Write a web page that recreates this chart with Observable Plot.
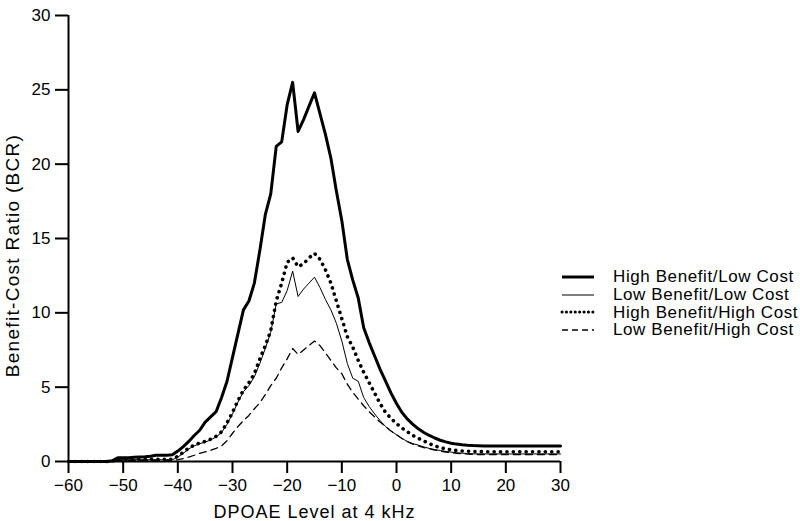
<!DOCTYPE html>
<html>
<head>
<meta charset="utf-8">
<script src="https://cdn.jsdelivr.net/npm/d3@7"></script>
<script src="https://cdn.jsdelivr.net/npm/@observablehq/plot@0.6"></script>
<style>
  html, body { margin: 0; padding: 0; background: #fff; }
  #wrap { position: relative; width: 800px; height: 521px; font-family: "Liberation Sans", Arial, sans-serif; }
  #legend { position: absolute; left: 560px; top: 268px; font-size: 17px; letter-spacing: 0.6px; color: #000; }
  .row { display: flex; align-items: center; height: 17.8px; }
  .row svg { width: 36px; height: 10px; margin-right: 17px; }
</style>
</head>
<body>
<div id="wrap"></div>
<script>
// DPOAE level (dB), 1-dB steps
const levels = d3.range(-60, 31, 1);

const seriesNames = ["High Benefit/Low Cost", "Low Benefit/Low Cost", "High Benefit/High Cost", "Low Benefit/High Cost"];

// High Benefit / Low Cost
const hblc = [
  0, 0, 0, 0, 0, 0, 0, 0,                       // -60..-53
  0.05, 0.25, 0.25, 0.25, 0.28, 0.30, 0.32, 0.35, // -52..-45
  0.42, 0.42, 0.42, 0.45,                       // -44..-41
  0.7, 1.0, 1.35, 1.75, 2.1, 2.65, 3.0, 3.35, 4.3, 5.4, // -40..-31
  7.0, 8.6, 10.2, 10.8, 12.0, 14.2, 16.6, 18.0, 21.2, 21.5, // -30..-21
  24.0, 25.5, 22.2, 23.0, 23.9, 24.8, 23.4, 22.0, 20.4, 18.2, // -20..-11
  16.2, 13.6, 12.2, 11.0, 9.0, 8.0, 7.1, 6.2, 5.4, 4.6, // -10..-1
  3.9, 3.3, 2.85, 2.5, 2.2, 1.95, 1.75, 1.58, 1.43, 1.32, // 0..9
  1.23, 1.17, 1.12, 1.09, 1.07, 1.06, 1.05, 1.05, 1.05, 1.05, // 10..19
  1.05, 1.05, 1.05, 1.05, 1.05, 1.05, 1.05, 1.05, 1.05, 1.05, 1.05 // 20..30
];

// Low Benefit / Low Cost
const lblc = [
  0, 0, 0, 0, 0, 0, 0, 0,
  0.02, 0.12, 0.12, 0.12, 0.12, 0.12, 0.12, 0.12,
  0.12, 0.12, 0.12, 0.12,
  0.3, 0.55, 0.85, 1.05, 1.2, 1.3, 1.45, 1.65, 1.95, 2.5,
  3.2, 4.0, 4.7, 5.1, 5.7, 6.6, 7.6, 8.7, 10.6, 10.7,
  11.5, 12.8, 11.1, 11.6, 12.0, 12.4, 11.7, 10.9, 10.2, 9.3,
  8.1, 6.6, 5.6, 5.4, 4.3, 3.7, 3.2, 2.75, 2.35, 2.05,
  1.8, 1.55, 1.35, 1.2, 1.1, 0.98, 0.88, 0.8, 0.74, 0.68,
  0.63, 0.59, 0.56, 0.54, 0.52, 0.51, 0.51, 0.51, 0.51, 0.51,
  0.51, 0.51, 0.51, 0.51, 0.51, 0.51, 0.51, 0.51, 0.51, 0.51, 0.51
];

// High Benefit / High Cost
const hbhc = [
  0, 0, 0, 0, 0, 0, 0, 0,
  0.03, 0.12, 0.13, 0.14, 0.15, 0.15, 0.15, 0.15,
  0.15, 0.15, 0.15, 0.15,
  0.35, 0.62, 0.9, 1.1, 1.25, 1.35, 1.5, 1.7, 2.0, 2.6,
  3.3, 4.1, 4.8, 5.3, 5.9, 6.9, 7.8, 8.8, 10.8, 12.0,
  13.4, 13.7, 13.1, 13.3, 13.7, 14.0, 13.6, 12.9, 12.0, 10.8,
  9.6, 8.4, 7.7, 6.8, 6.0, 5.3, 4.6, 3.9, 3.3, 2.9,
  2.55, 2.25, 2.0, 1.75, 1.55, 1.38, 1.2, 1.05, 0.93, 0.85,
  0.78, 0.74, 0.71, 0.69, 0.68, 0.67, 0.66, 0.66, 0.66, 0.66,
  0.66, 0.66, 0.66, 0.66, 0.66, 0.66, 0.66, 0.66, 0.66, 0.66, 0.66
];

// Low Benefit / High Cost
const lbhc = [
  0, 0, 0, 0, 0, 0, 0, 0,
  0.02, 0.08, 0.08, 0.08, 0.08, 0.08, 0.08, 0.08,
  0.08, 0.08, 0.08, 0.08,
  0.12, 0.2, 0.3, 0.42, 0.55, 0.65, 0.75, 0.88, 1.05, 1.4,
  1.9, 2.35, 2.75, 3.1, 3.55, 3.95, 4.5, 5.1, 5.6, 6.3,
  6.9, 7.6, 7.2, 7.5, 7.8, 8.1, 7.8, 7.3, 6.8, 6.3,
  5.9, 5.2, 4.65, 4.2, 3.75, 3.35, 3.0, 2.65, 2.35, 2.05,
  1.8, 1.55, 1.33, 1.17, 1.05, 0.94, 0.85, 0.77, 0.7, 0.64,
  0.59, 0.55, 0.52, 0.5, 0.48, 0.47, 0.47, 0.47, 0.47, 0.47,
  0.47, 0.47, 0.47, 0.47, 0.47, 0.47, 0.47, 0.47, 0.47, 0.47, 0.47
];

const xTicks = d3.range(-60, 31, 10);
const yTicks = d3.range(0, 31, 5);

const styles = [
  {strokeWidth: 3, strokeDasharray: null},
  {strokeWidth: 1, strokeDasharray: null},
  {strokeWidth: 3.6, strokeDasharray: "0.1 6.3"},
  {strokeWidth: 1.3, strokeDasharray: "7 5"}
];
const allValues = [hblc, lblc, hbhc, lbhc];

const toRows = (vals) => levels.map((x, i) => ({x, y: vals[i]}));

const fontFam = '"Liberation Sans", Arial, sans-serif';

const chart = Plot.plot({
  width: 800,
  height: 521,
  marginLeft: 68,
  marginRight: 240,
  marginTop: 15,
  marginBottom: 60,
  style: {fontFamily: fontFam, fontSize: "17px", color: "#000", background: "#fff"},
  x: {domain: [-60, 30]},
  y: {domain: [0, 30]},
  marks: [
    Plot.axisX({ticks: xTicks, tickSize: 12, tickPadding: 5, strokeWidth: 2, fontSize: 17,
      tickFormat: d => d < 0 ? "\u2212" + Math.abs(d) : String(d),
      label: "DPOAE Level at 4 kHz", labelAnchor: "center", labelArrow: "none", labelOffset: 56}),
    Plot.axisY({ticks: yTicks, tickSize: 13, tickPadding: 5, strokeWidth: 2, fontSize: 17,
      label: "Benefit-Cost Ratio (BCR)", labelAnchor: "center", labelArrow: "none", labelOffset: 63}),
    Plot.ruleX([-60], {stroke: "#000", strokeWidth: 2}),
    Plot.ruleY([0], {stroke: "#000", strokeWidth: 2}),
    ...allValues.map((vals, k) => Plot.line(toRows(vals), {
      x: "x", y: "y", stroke: "#000",
      strokeWidth: styles[k].strokeWidth,
      strokeDasharray: styles[k].strokeDasharray,
      strokeLinecap: "round", strokeLinejoin: "round"
    }))
  ]
});

// style the axis labels a bit larger / spaced like the reference
chart.querySelectorAll('g[aria-label="x-axis label"] text').forEach(t => {
  t.setAttribute("font-size", "18");
  t.style.letterSpacing = "1px";
});
chart.querySelectorAll('g[aria-label="y-axis label"] text').forEach(t => {
  t.setAttribute("font-size", "19");
  t.style.letterSpacing = "1.3px";
  t.setAttribute("dx", "-17");
});

const wrap = document.getElementById("wrap");
wrap.appendChild(chart);

// legend
const legend = document.createElement("div");
legend.id = "legend";
seriesNames.forEach((name, k) => {
  const row = document.createElement("div");
  row.className = "row";
  const s = styles[k];
  const svgNS = "http://www.w3.org/2000/svg";
  const svg = document.createElementNS(svgNS, "svg");
  svg.setAttribute("viewBox", "0 0 36 10");
  const ln = document.createElementNS(svgNS, "line");
  ln.setAttribute("x1", 2); ln.setAttribute("x2", 34);
  ln.setAttribute("y1", 5); ln.setAttribute("y2", 5);
  ln.setAttribute("stroke", "#000");
  ln.setAttribute("stroke-width", k === 2 ? 3 : s.strokeWidth);
  if (k === 2) { ln.setAttribute("stroke-dasharray", "0.1 4.3"); ln.setAttribute("stroke-linecap", "round"); }
  if (k === 3) ln.setAttribute("stroke-dasharray", "6 4");
  svg.appendChild(ln);
  const label = document.createElement("span");
  label.textContent = name;
  row.appendChild(svg);
  row.appendChild(label);
  legend.appendChild(row);
});
wrap.appendChild(legend);
</script>
</body>
</html>
